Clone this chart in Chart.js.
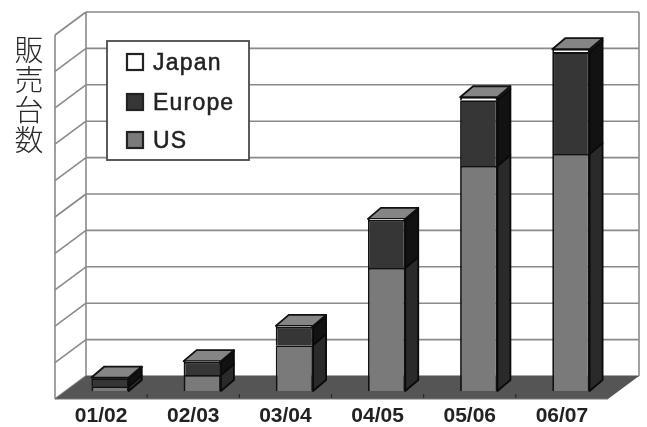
<!DOCTYPE html>
<html lang="ja">
<head>
<meta charset="utf-8">
<title>販売台数</title>
<style>
html,body{margin:0;padding:0;background:#fff}
canvas{display:block}
</style>
<script src="https://cdn.jsdelivr.net/npm/chart.js@4"></script>
</head>
<body>
<canvas id="sales" width="647" height="427"></canvas>
<script>
// Units sold per fiscal year, stacked by region.
const fiscalYears = ['01/02', '02/03', '03/04', '04/05', '05/06', '06/07'];
const usUnits = [0.13, 0.44, 1.26, 3.38, 6.18, 6.51];
const europeUnits = [0.22, 0.36, 0.5, 1.32, 1.81, 2.8];
const japanUnits = [0.02, 0.02, 0.03, 0.03, 0.08, 0.08];
const gridValues = [0, 1, 2, 3, 4, 5, 6, 7, 8, 9, 10];
const axisTitle = '販売台数';

const ink = '#222222';
const gridColor = '#8a8a8a';
const floorColor = '#555555';
const sideShade = { US: '#2a2a2a', Europe: '#121212', Japan: '#3a3a3a' };

// Oblique projection: full depth of the box, and where the bars sit inside it.
const wallDepth = { x: 31, y: -23 };
const barOffset = { x: 9, y: -8 };
const barDepth = { x: 13, y: -11 };

function poly(ctx, pts, fill, stroke, width) {
  ctx.beginPath();
  pts.forEach((p, i) => (i ? ctx.lineTo(p[0], p[1]) : ctx.moveTo(p[0], p[1])));
  ctx.closePath();
  if (fill) { ctx.fillStyle = fill; ctx.fill(); }
  if (stroke) { ctx.strokeStyle = stroke; ctx.lineWidth = width; ctx.lineJoin = 'round'; ctx.stroke(); }
}

function seg(ctx, x0, y0, x1, y1, color, width) {
  ctx.beginPath();
  ctx.moveTo(x0, y0);
  ctx.lineTo(x1, y1);
  ctx.strokeStyle = color;
  ctx.lineWidth = width;
  ctx.stroke();
}

// Back wall, side wall and floor of the 3D box.
const boxPlugin = {
  id: 'box',
  beforeDatasetsDraw(chart) {
    const { ctx, chartArea: a, scales: { x, y } } = chart;
    const dx = wallDepth.x, dy = wallDepth.y;
    const yZero = y.getPixelForValue(0), yTop = y.getPixelForValue(10);
    ctx.save();
    gridValues.forEach((v) => {
      const py = y.getPixelForValue(v);
      seg(ctx, a.left, py, a.left + dx, py + dy, gridColor, 1.6);
      seg(ctx, a.left + dx, py + dy, a.right + dx, py + dy, gridColor, 1.6);
    });
    seg(ctx, a.left, yZero, a.left, yTop, gridColor, 1.6);
    seg(ctx, a.left + dx, yZero + dy, a.left + dx, yTop + dy, gridColor, 1.6);
    seg(ctx, a.right + dx, yZero + dy, a.right + dx, yTop + dy, gridColor, 1.6);
    poly(ctx, [[a.left, yZero], [a.right, yZero], [a.right + dx, yZero + dy], [a.left + dx, yZero + dy]], floorColor);
    seg(ctx, a.left, yZero, a.right, yZero, '#777777', 1);
    const step = (a.right - a.left) / fiscalYears.length;
    for (let i = 1; i < fiscalYears.length; i++) {
      seg(ctx, a.left + step * i, yZero - 5, a.left + step * i, yZero - 1, '#222222', 1);
    }
    ctx.restore();
  }
};

// Side and top faces of every stacked segment, extruded from the bar elements.
const extrudePlugin = {
  id: 'extrude',
  beforeDatasetsDraw(chart) {
    const { ctx } = chart;
    ctx.save();
    ctx.translate(barOffset.x, barOffset.y);
    const dx = barDepth.x, dy = barDepth.y;
    const metas = chart.getSortedVisibleDatasetMetas();
    metas.forEach((meta) => {
      const label = chart.data.datasets[meta.index].label;
      meta.data.forEach((bar) => {
        const r = bar.x + bar.width / 2;
        poly(ctx, [[r, bar.base], [r + dx, bar.base + dy], [r + dx, bar.y + dy], [r, bar.y]], sideShade[label], '#0a0a0a', 1.8);
      });
    });
    const top = metas[metas.length - 1];
    top.data.forEach((bar) => {
      const l = bar.x - bar.width / 2, r = bar.x + bar.width / 2;
      poly(ctx, [[l, bar.y], [r, bar.y], [r + dx, bar.y + dy], [l + dx, bar.y + dy]], '#858585', '#111111', 1.8);
    });
  },
  afterDatasetsDraw(chart) {
    chart.ctx.restore();
  }
};

// Framed legend, vertical axis title.
const annotationPlugin = {
  id: 'annotation',
  afterDraw(chart) {
    const { ctx } = chart;
    ctx.save();
    ctx.fillStyle = '#ffffff';
    ctx.fillRect(107, 41, 142, 119);
    ctx.strokeStyle = '#4a4a4a';
    ctx.lineWidth = 1.8;
    ctx.strokeRect(107, 41, 142, 119);

    const rows = chart.data.datasets.slice().reverse();
    const rowY = [62, 102, 140];
    ctx.textBaseline = 'middle';
    ctx.textAlign = 'left';
    rows.forEach((ds, i) => {
      ctx.fillStyle = ds.backgroundColor;
      ctx.fillRect(127, rowY[i] - 8, 16, 16);
      ctx.strokeStyle = '#222222';
      ctx.lineWidth = 2.2;
      ctx.strokeRect(127, rowY[i] - 8, 16, 16);
      ctx.fillStyle = '#222222';
      ctx.strokeStyle = '#222222';
      ctx.lineWidth = 0.5;
      ctx.font = '23px "Liberation Sans", sans-serif';
      ctx.letterSpacing = '1.2px';
      ctx.fillText(ds.label, 153, rowY[i] + 2);
      ctx.strokeText(ds.label, 153, rowY[i] + 2);
    });
    ctx.letterSpacing = '0px';

    ctx.font = '300 29px "Noto Sans CJK JP", sans-serif';
    ctx.fillStyle = '#2a2a2a';
    ctx.textAlign = 'center';
    Array.from(axisTitle).forEach((ch, i) => {
      ctx.fillText(ch, 29, 50 + i * 30);
    });
    ctx.restore();
  }
};

const segment = (label, data, color) => ({
  label,
  data,
  backgroundColor: color,
  borderColor: '#111111',
  borderWidth: 1.8,
  clip: false,
  categoryPercentage: 1,
  barPercentage: 0.405
});

new Chart(document.getElementById('sales'), {
  type: 'bar',
  data: {
    labels: fiscalYears,
    datasets: [
      segment('US', usUnits, '#7a7a7a'),
      segment('Europe', europeUnits, '#363636'),
      segment('Japan', japanUnits, '#ffffff')
    ]
  },
  plugins: [boxPlugin, extrudePlugin, annotationPlugin],
  options: {
    responsive: false,
    animation: false,
    devicePixelRatio: 1,
    layout: { padding: { left: 55, right: 39, top: 35, bottom: 0 } },
    plugins: { legend: { display: false }, title: { display: false }, tooltip: { enabled: false } },
    scales: {
      x: {
        stacked: true,
        grid: { display: false, drawTicks: false, tickLength: 0 },
        border: { display: false },
        afterFit(scale) { scale.height = 28; },
        ticks: {
          autoSkip: false,
          maxRotation: 0,
          padding: 5,
          color: ink,
          font: { family: '"Liberation Sans", sans-serif', size: 21, weight: 'bold' }
        }
      },
      y: { stacked: true, display: false, min: 0, max: 10 }
    }
  }
});
</script>
</body>
</html>
